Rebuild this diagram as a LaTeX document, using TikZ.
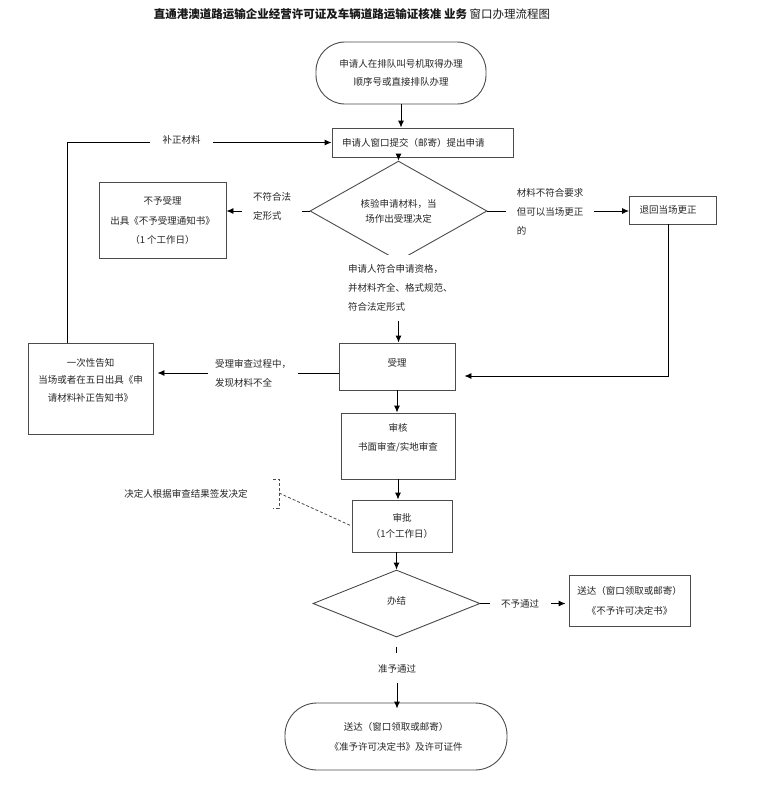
\documentclass[tikz,border=0pt]{standalone}
\usepackage{fontspec}
\setmainfont{Noto Sans CJK SC}
\usetikzlibrary{shapes.geometric,arrows.meta}
\newcommand\myBody{\fontsize{9.5}{19}\selectfont}
\newcommand\myTitle{\fontsize{11.5}{14}\selectfont}
\tikzset{
  box/.style={draw=black!70, line width=0.9pt, fill=white, font=\myBody, align=center, inner sep=0pt, text=black!85},
  term/.style={box},
  dia/.style={diamond, draw=black!70, line width=0.9pt, fill=white, font=\myBody, align=center, inner sep=0pt, text=black!85},
  arr/.style={draw=black, line width=0.9pt, -{Latex[length=7pt,width=6pt]}},
  ln/.style={draw=black, line width=0.9pt},
  lbl/.style={fill=white, font=\myBody, align=left, text=black!85, inner ysep=2pt},
  dsh/.style={draw=black!70, line width=0.8pt, dash pattern=on 3pt off 2pt}
}
\begin{document}
\begin{tikzpicture}[x=1pt,y=-1pt]
\useasboundingbox (0,0) rectangle (778,788);
\fill[white] (0,0) rectangle (778,788);

% title
\node[font=\myTitle, text=black!90] (title) at (352,14) {\bfseries 直通港澳道路运输企业经营许可证及车辆道路运输证核准 业务\mdseries\ 窗口办理流程图};

% nodes
\node[term, rounded corners=29pt, minimum width=170pt, minimum height=62pt] (start) at (401,73) {申请人在排队叫号机取得办理\\[-1pt]顺序号或直接排队办理};
\node[box, minimum width=181pt, minimum height=29pt, text width=161pt, inner xsep=10pt, align=left] (apply) at (422.5,142.5) {申请人窗口提交（邮寄）提出申请};
\node[dia, minimum width=177pt, minimum height=67pt] (d1) at (398.5,211) {核验申请材料，当\\[-4pt]场作出受理决定};
\node[box, minimum width=127pt, minimum height=76pt] (rej) at (162.5,220) {不予受理\\[1pt]出具《不予受理通知书》\\[0pt]（1 个工作日）};
\node[box, minimum width=87pt, minimum height=28pt, text width=67pt, inner xsep=10pt, align=left] (fix) at (673,210) {退回当场更正};
\node[box, minimum width=116pt, minimum height=47pt] (acc) at (397,366.5) {\raisebox{8.5pt}{受理}};
\node[box, minimum width=125pt, minimum height=91pt, font=\fontsize{9.5}{17.5}\selectfont] (notice) at (90.5,388.5) {一次性告知\\当场或者在五日出具《申\\请材料补正告知书》\\\mbox{}};
\node[box, minimum width=114pt, minimum height=66pt] (rev) at (398,446) {审核\\书面审查/实地审查\\\mbox{}};
\node[box, minimum width=100pt, minimum height=52pt] (appr) at (402,526) {审批\\[-3pt]（1个工作日）};
\node[dia, minimum width=167pt, minimum height=67pt] (d2) at (396.5,603.5) {\raisebox{7pt}{办结}};
\node[box, minimum width=121pt, minimum height=51pt] (nobox) at (629.5,600.5) {送达（窗口领取或邮寄）\\[1pt]《不予许可决定书》};
\node[term, rounded corners=32pt, minimum width=222pt, minimum height=67pt] (end) at (396,736.5) {送达（窗口领取或邮寄）\\[1pt]《准予许可决定书》及许可证件};

% main flow
\draw[arr] (start.south) -- (start.south |- apply.north);
\draw[arr] (d1.north |- apply.south) -- (d1.north);
\draw[arr] (d1.south) -- (d1.south |- acc.north);
\node[lbl, anchor=west, inner xsep=5pt, inner ysep=10pt] (okl) at (343,288) {申请人符合申请资格，\\并材料齐全、格式规范、\\符合法定形式};

\draw[arr] (d1.west) -- (rej.east |- d1.west);
\node[lbl, inner xsep=11pt] (l1) at (272,206) {不符合法\\定形式};

\draw[arr] (d1.east) -- (fix.west |- d1.east);
\node[lbl, inner xsep=11pt] (l2) at (550,212) {材料不符合要求\\但可以当场更正\\的};

\draw[arr, shorten >=9pt] ([xshift=-5pt]fix.south) |- ([yshift=-9.5pt]acc.east);

\draw[arr, shorten >=4pt] ([yshift=-6.5pt]acc.west) -- ([yshift=-6.5pt]acc.west -| notice.east);
\node[lbl, inner xsep=7pt] (l3) at (253,373) {受理审查过程中，\\发现材料不全};

\draw[arr] ([xshift=-23.5pt]notice.north) |- (apply.west);
\node[lbl, inner xsep=12.5pt, inner ysep=3pt] (l4) at (181.5,140) {补正材料};

\draw[arr] (acc.south) -- (acc.south |- rev.north);
\draw[arr] (rev.south) -- (rev.south |- appr.north);
\draw[arr] (d2.north |- appr.south) -- (d2.north);

% decision annotation
\coordinate (bk) at (279,493);
\draw[dsh] (273,479) -- (279,479) -- (279,508) -- (273,508);
\draw[dsh] (bk) -- (appr.west);
\node[font=\myBody, text=black!85] (dec) at (186,494) {决定人根据审查结果签发决定};

% outcome
\draw[arr, shorten >=3pt] (d2.east) -- (nobox.west |- d2.east);
\node[lbl, inner xsep=11.5pt] (l5) at (520,604) {不予通过};

\draw[ln] (d2.south) ++(0,10) -- ++(0,6);
\node[font=\myBody, text=black!85] (pass) at (397,669) {准予通过};
\draw[arr] ([yshift=-6pt]pass.south) -- ([yshift=-6pt]pass.south |- end.north);
\end{tikzpicture}
\end{document}
